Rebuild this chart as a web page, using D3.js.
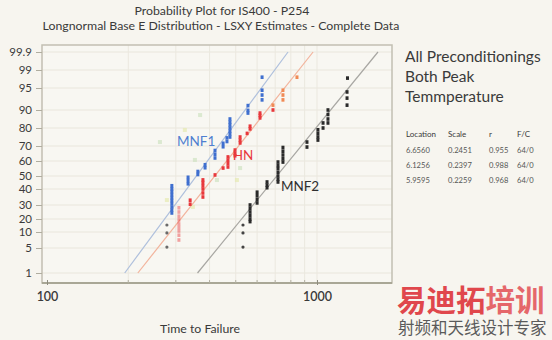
<!DOCTYPE html>
<html><head><meta charset="utf-8">
<script src="https://cdn.jsdelivr.net/npm/d3@7"></script>
<style>body{margin:0;background:#f7f5ef;} svg{display:block}</style>
</head><body><svg id="c" width="552" height="340"></svg>
<script>
// ---------- data ----------
const yTicks = [1,5,10,20,30,40,50,60,70,80,90,95,99,99.9];
const xTicks = [100,1000];
const xMinor = [200,300,400,500,600,700,800,900];
const titleLines = ["Probability Plot for IS400 - P254","Longnormal Base E Distribution - LSXY Estimates - Complete Data"];
const legendLines = ["All Preconditionings","Both Peak","Temmperature"];
const tableHeader = ["Location","Scale","r","F/C"];
const tableLocation = ["6.6560","6.1256","5.9595"];
const tableScale = ["0.2451","0.2397","0.2259"];
const tableR = ["0.955","0.988","0.968"];
const tableFC = ["64/0","64/0","64/0"];

const mnf1Time = [290,290,290,290,290,290,290,290,290,290, 333,333,333, 362,362, 385,385, 419,419,419, 449,449, 464,464, 476,476,476,476,476,476,476, 555,555,555, 626,626,626, 626];
const mnf1Pct  = [24.3,26.4,28.6,30.9,32.8,34.6,36.5,38.4,40.2,42.5, 44,46.5,49, 51,53, 55.5,57.5, 62,64.5,67, 69.5,71.5, 72.5,74.5, 75,76.7,78.3,80,81.7,83.3,85, 88.3,89.8,91, 92.3,93.4,94.5, 97.4];
const mnf1LowTime = [278,278,278];
const mnf1LowPct  = [15.4,9.7,5.3];

const hnTime = [308,308,308,308,308,308,308,308,308, 339,339, 378,378,378,378,378,378, 419, 449, 468,468,468,468, 497,497,497, 519,519,519, 551, 565,565, 615,615,615, 687,687, 748,748,748, 843];
const hnPct  = [7.5,9,10.8,13.5,16.2,19.3,22,25,28, 30.5,33, 35,37.5,40,42.5,45,47, 50.7, 55.3, 56,58.3,60.5,62.7, 63.5,65,67.3, 71.7,73.3,75, 77, 79.5,81, 85.6,87,88.3, 90,91.1, 92.3,93.4,94.5, 97.4];

const mnf2LowTime = [532,532,532];
const mnf2LowPct  = [15.4,9.7,5.3];
const mnf2Time = [565,565,565,565,565,565, 600,600,600,600, 653,653,653, 717,717,717,717,717,717,717, 748,748,748,748,748, 918,918, 1008,1008,1008,1008, 1053,1053, 1098,1098,1098,1098, 1292,1292,1292, 1297];
const mnf2Pct  = [18,20,22.5,25,27.5,30, 31.3,33.5,35.8,38, 41,43,45.4, 45.4,47.5,50,52.5,55,57,59.3, 59.3,61.5,64,66.5,69, 69.3,72.2, 73.3,75,77,79, 80,82.8, 82.8,85,87.5,90, 91.1,92.7,94.1, 97.2];

const faintTime = [262,278,353,347,426,505,519,324,369];
const faintPct  = [72.2,33.1,60.7,28.6,46.9,46.9,55.3,78.9,87.2];

const fitMNF1 = [[194,1],[781,99.9]];
const fitHN   = [[217,1],[967,99.9]];
const fitMNF2 = [[361,1],[1682,99.9]];

// ---------- layout ----------
const svg = d3.select("#c");
const font = "Lato, 'Open Sans', sans-serif";
const txt = "#3a3a3a";
const frame = {x0:42, y0:45, x1:392, y1:283};

const x = d3.scaleLog().domain([100,1000]).range([47,317]);
const y = d3.scaleLinear().domain(yTicks).range([273,248,232,219,205,189,176,161,146,128,110,88,70,52]);

svg.append("rect").attr("width",552).attr("height",340).attr("fill","#f7f5ef");
svg.append("rect").attr("x",frame.x0).attr("y",frame.y0).attr("width",frame.x1-frame.x0).attr("height",frame.y1-frame.y0)
  .attr("fill","#f8f7f2");

// grid
const g = svg.append("g");
g.selectAll(".hg").data(yTicks).join("line")
  .attr("x1",frame.x0).attr("x2",frame.x1).attr("y1",d=>y(d)).attr("y2",d=>y(d))
  .attr("stroke","#e9e6dc").attr("stroke-width",1);
g.selectAll(".vg").data(xMinor.concat([1000])).join("line")
  .attr("x1",d=>x(d)).attr("x2",d=>x(d)).attr("y1",frame.y0).attr("y2",frame.y1)
  .attr("stroke","#ebe8df").attr("stroke-width",1);

// frame
svg.append("rect").attr("x",frame.x0).attr("y",frame.y0).attr("width",frame.x1-frame.x0).attr("height",frame.y1-frame.y0)
  .attr("fill","none").attr("stroke","#c2bfb2").attr("stroke-width",1.5);
svg.append("line").attr("x1",frame.x0).attr("x2",frame.x1).attr("y1",frame.y1).attr("y2",frame.y1)
  .attr("stroke","#a9a796").attr("stroke-width",1.8);

// y axis
const yAxis = d3.axisLeft(y).tickValues(yTicks).tickSize(6).tickFormat(d=>String(d));
const ya = svg.append("g").attr("transform",`translate(${frame.x0},0)`).call(yAxis);
ya.select(".domain").remove();
ya.selectAll(".tick line").attr("stroke","#b0ad9f");
ya.selectAll(".tick text").attr("x",-10).attr("fill",txt).attr("font-family",font).attr("font-size",11.5);

// x axis
const xAxis = d3.axisBottom(x).tickValues(xTicks).tickSize(4).tickFormat(d3.format("d"));
const xa = svg.append("g").attr("transform",`translate(0,${frame.y1})`).call(xAxis);
xa.select(".domain").remove();
xa.selectAll(".tick line").attr("stroke","#8f8d80").attr("y1",-3).attr("y2",2);
xa.selectAll(".tick text").attr("y",9).attr("fill",txt).attr("font-family",font).attr("font-size",12.5).attr("font-weight",600);
svg.append("g").selectAll("line").data(xMinor).join("line")
  .attr("x1",d=>x(d)).attr("x2",d=>x(d)).attr("y1",frame.y1-3).attr("y2",frame.y1)
  .attr("stroke","#b3b0a2");

// fit lines
const line = d3.line().x(d=>x(d[0])).y(d=>y(d[1]));
[[fitMNF1,"#aebfdc"],[fitHN,"#f2b39c"],[fitMNF2,"#a7a6a2"]].forEach(([pts,c])=>{
  svg.append("path").attr("d",line(pts)).attr("fill","none").attr("stroke",c).attr("stroke-width",1.2);
});

// faint ghost points
svg.append("g").selectAll("rect").data(faintTime.map((t,i)=>[t,faintPct[i]])).join("rect")
  .attr("x",d=>x(d[0])-2).attr("y",d=>y(d[1])-2).attr("width",4).attr("height",4)
  .attr("fill",(d,i)=>i%2?"#e6eab0":"#cfe3c2").attr("opacity",0.7);

function marks(times,pcts,color){
  svg.append("g").selectAll("rect").data(times.map((t,i)=>[t,pcts[i]])).join("rect")
    .attr("x",d=>x(d[0])-1.5).attr("y",d=>y(d[1])-1.8).attr("width",3).attr("height",3.6)
    .attr("fill",color);
}
function dots(times,pcts,color){
  svg.append("g").selectAll("circle").data(times.map((t,i)=>[t,pcts[i]])).join("circle")
    .attr("cx",d=>x(d[0])).attr("cy",d=>y(d[1])).attr("r",1.6).attr("fill",color);
}
marks(mnf1Time,mnf1Pct,"#3f6fcf");
dots(mnf1LowTime,mnf1LowPct,"#6a6a6a");
svg.append("g").selectAll("rect").data(hnTime.map((t,i)=>[t,hnPct[i]])).join("rect")
  .attr("x",d=>x(d[0])-1.5).attr("y",d=>y(d[1])-1.8).attr("width",3).attr("height",3.6)
  .attr("fill",d=>d[1]>90?"#f08a55":"#e8383c").attr("opacity",d=>d[1]<30?0.45:1);
dots(mnf2LowTime,mnf2LowPct,"#444");
marks(mnf2Time,mnf2Pct,"#2a2a2a");

// series labels
svg.append("text").attr("x",x(303)).attr("y",y(72)+4).text("MNF1")
  .attr("fill","#4f7fd0").attr("font-family",font).attr("font-size",13.5);
svg.append("text").attr("x",x(487)).attr("y",y(64)+5).text("HN")
  .attr("fill","#e8383c").attr("font-family",font).attr("font-size",13.5);
svg.append("text").attr("x",x(735)).attr("y",y(42)+5).text("MNF2")
  .attr("fill","#2f2f2f").attr("font-family",font).attr("font-size",13.5);

// titles
svg.append("g").selectAll("text").data(titleLines).join("text")
  .attr("x",(d,i)=>i?221:222).attr("y",(d,i)=>15+i*14.5).attr("text-anchor","middle")
  .attr("fill",txt).attr("font-family",font).attr("font-size",12.3).text(d=>d);

svg.append("text").attr("x",200).attr("y",333).attr("text-anchor","middle")
  .attr("fill",txt).attr("font-family",font).attr("font-size",12.3).text("Time to Failure");

// legend
svg.append("g").selectAll("text").data(legendLines).join("text")
  .attr("x",405).attr("y",(d,i)=>62+i*20).attr("fill",txt)
  .attr("font-family",font).attr("font-size",15.5).text(d=>d);
const colX = [406,448,489,517];
svg.append("g").selectAll("text").data(tableHeader).join("text")
  .attr("x",(d,i)=>colX[i]).attr("y",137).attr("fill",txt)
  .attr("font-family",font).attr("font-size",8).text(d=>d);
[tableLocation,tableScale,tableR,tableFC].forEach((col,ci)=>{
  svg.append("g").selectAll("text").data(col).join("text")
    .attr("x",colX[ci]).attr("y",(d,i)=>153+i*15).attr("fill","#555")
    .attr("font-family",font).attr("font-size",7.6).text(d=>d);
});

// watermark
const wm = svg.append("text").attr("x",397).attr("y",311).attr("font-family","'Noto Sans CJK SC'")
  .attr("font-size",29.5).attr("font-weight",700);
wm.append("tspan").attr("fill","#e0474c").text("易迪拓");
wm.append("tspan").attr("fill","#e5676a").text("培训");
svg.append("text").attr("x",398).attr("y",334).attr("font-family","'Noto Sans CJK SC'")
  .attr("font-size",16.5).attr("fill","#5a5a5a").text("射频和天线设计专家");
</script></body></html>
